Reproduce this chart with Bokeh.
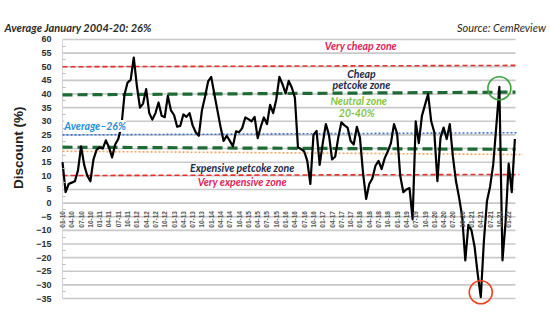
import math
import numpy as np
from bokeh.plotting import figure
from bokeh.models import Range1d, FixedTicker, Label
from bokeh.embed import file_html
from bokeh.resources import INLINE

# ---------------- data ----------------
x_labels = ["01-10", "04-10", "07-10", "10-10", "01-11", "04-11", "07-11", "10-11",
            "01-12", "04-12", "07-12", "10-12", "01-13", "04-13", "07-13", "10-13",
            "01-14", "04-14", "07-14", "10-14", "01-15", "04-15", "07-15", "10-15",
            "01-16", "04-16", "07-16", "10-16", "01-17", "04-17", "07-17", "10-17",
            "01-18", "04-18", "07-18", "10-18", "01-19", "04-19", "07-19", "10-19",
            "01-20", "04-20", "07-20", "10-20", "01-21", "04-21", "07-21", "10-21",
            "01-22"]

# monthly discount (%), Jan 2010 onwards
discount = [15, 4, 7, 7.5, 8, 12, 20.8, 14, 10, 8,
            16, 19.5, 20.4, 20, 23, 20.5, 16.7, 21.5, 23.5, 28,
            39.7, 44.2, 45.2, 53.4, 43, 35, 36.5, 41.8, 33, 30.6,
            33, 36.9, 32, 31.5, 39.3, 34, 32.3, 28, 28.3, 32.5,
            31.6, 33, 28.5, 26, 24.7, 34, 39, 44.6, 46.3, 40,
            34, 28, 22.8, 24.7, 22.8, 20.8, 26.3, 26, 27.5, 31.4,
            30.8, 30, 31.6, 23.8, 28, 31.4, 29, 36, 33, 38,
            46.3, 43.6, 40.2, 44.8, 42.4, 38.7, 20.4, 19.8, 19, 15.5,
            7, 25, 26.5, 14, 22, 29, 25, 16, 17, 24,
            29.6, 28.5, 27.7, 22.8, 21.5, 28, 24, 11, 1.5, 7,
            9, 13.7, 15.5, 12.5, 16.5, 19, 22, 29, 25.5, 10,
            4, 5, 5.5, -6, 30, 22, 32, 36, 40, 30,
            26, 8, 24, 27.7, 23.5, 29, 17, 8, 2, -5,
            -21, -8, -10, -16, -26, -34.5, -14, 0.8, 6, 14,
            28, 42.6, -21, -7, 14.5, 4, 23.5]

# reference lines: level at left edge, level at right edge
zone_left = [50.0, 39.7, 25.0, 20.5, 19.0, 10.1]
zone_right = [50.5, 40.7, 25.8, 19.7, 17.8, 10.5]
zone_colors = ["#e8302a", "#1f6b35", "#3b78d0", "#1f6b35", "#f5a55c", "#e8302a"]
zone_widths = [1.6, 3.2, 1.6, 3.2, 1.6, 1.6]
zone_dashes = ["5 3", "10 5", "2 2", "10 5", "2 2", "5 3"]
zone_ends = [146.6, 146.2, 146.6, 146.2, 148.6, 147.4]

y_ticks = list(range(-35, 61, 5))

months = list(range(len(discount)))
grid_end = 146.2

# frame covers the whole canvas; axes are pinned at x=0 / y=0
p = figure(width=550, height=322, output_backend="svg", toolbar_location=None,
           x_range=Range1d(-20.01, 157.5), y_range=Range1d(-43.8, 74.3),
           min_border=0, title=None)
p.outline_line_color = None
p.background_fill_color = "white"
p.xgrid.visible = False
p.ygrid.visible = False

# horizontal grid lines (within the chart area only)
p.segment(x0=0, y0=y_ticks, x1=grid_end, y1=y_ticks, line_color="#c9c9c9", line_width=1.6)
p.segment(x0=0, y0=min(y_ticks), x1=0, y1=max(y_ticks), line_color="#d5d5d5", line_width=1)

# y axis
p.yaxis.fixed_location = 0
p.yaxis.ticker = FixedTicker(ticks=y_ticks, minor_ticks=[t + 2.5 for t in y_ticks[:-1]])
p.yaxis.major_label_text_font = "Liberation Sans"
p.yaxis.major_label_text_font_style = "bold"
p.yaxis.major_label_text_font_size = "9px"
p.yaxis.major_label_text_color = "#2e2e2e"
p.yaxis.axis_line_color = None
p.yaxis.major_tick_line_color = None
p.yaxis.minor_tick_line_color = "#bbbbbb"
p.yaxis.minor_tick_in = 3
p.yaxis.minor_tick_out = 0
p.yaxis.major_label_standoff = 5

# x axis across zero
xticks = [3 * k for k in range(len(x_labels))]
p.xaxis.fixed_location = 0
p.xaxis.ticker = FixedTicker(ticks=xticks)
p.xaxis.major_label_overrides = {t: lab for t, lab in zip(xticks, x_labels)}
p.xaxis.major_label_orientation = math.pi / 2
p.xaxis.major_label_text_font = "Liberation Sans"
p.xaxis.major_label_text_font_style = "bold"
p.xaxis.major_label_text_font_size = "6.5px"
p.xaxis.major_label_text_color = "#555555"
p.xaxis.axis_line_color = None
p.xaxis.major_tick_line_color = None
p.xaxis.minor_tick_line_color = None
p.xaxis.major_label_standoff = 2

# zone lines
for yl, yr, xe, c, w, d in zip(zone_left, zone_right, zone_ends, zone_colors, zone_widths, zone_dashes):
    p.segment(x0=0, y0=yl, x1=xe, y1=yr, line_color=c, line_width=w, line_dash=d)

# data line
p.line(months, discount, line_color="black", line_width=2.2, line_join="round")

# highlight circles
vals = np.array(discount)
recent_start = 120
hi = recent_start + int(np.argmax(vals[recent_start:]))
lo = int(np.argmin(vals))
p.scatter([hi], [vals[hi] - 0.5], marker="circle", size=23, fill_alpha=0,
          line_color="#3fa33f", line_width=1.6)
p.scatter([lo], [vals[lo] + 1.8], marker="circle", size=23, fill_alpha=0,
          line_color="#e9451f", line_width=1.6)

FONT = "Lato"

def note(text, x, y, color, align="center", size="10.5px", bg=None,
         style="bold italic", font=FONT, angle=0):
    lab = Label(x=x, y=y, text=text, text_color=color, text_font=font,
                text_font_style=style, text_font_size=size, text_align=align,
                text_baseline="middle", angle=angle)
    if bg:
        lab.background_fill_color = bg
    p.add_layout(lab)

note("Very cheap zone", 96.3, 57.7, "#e0245a")
note("Cheap", 96.5, 47.5, "#1c2a4a")
note("petcoke zone", 96.5, 43.3, "#1c2a4a")
note("Neutral zone", 95.6, 37.3, "#86c440")
note("20-40%", 95.0, 32.9, "#86c440")
note("Average\u201326%", 0.6, 28.3, "#1e8fd8", align="left", bg="white")
note("Expensive petcoke zone", 58.0, 12.8, "#1c2a4a")
note("Very expensive zone", 58.0, 7.9, "#e0245a")

# title, source, y-axis title
note("Average January 2004-20: 26%", -18.7, 64.3, "#2a2a2a", align="left", size="11px")
note("Source: CemReview", 156.0, 64.3, "#2a2a2a", align="right", size="11px", style="italic")
note("Discount (%)", -14.2, 20.3, "#222222", size="13.5px", style="bold",
     font="Liberation Sans", angle=math.pi / 2)

open("out.html", "w").write(file_html(p, INLINE))
